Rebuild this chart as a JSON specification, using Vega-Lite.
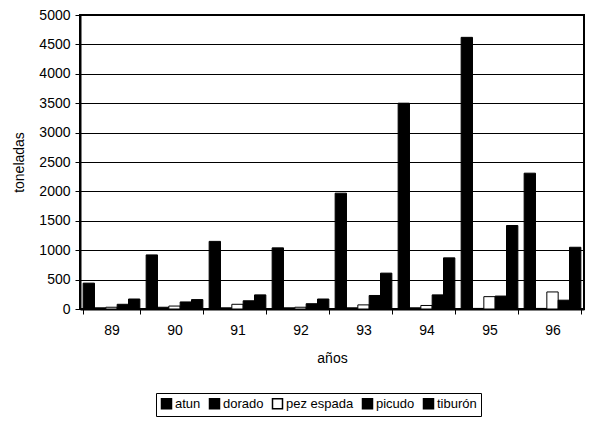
{
  "$schema": "https://vega.github.io/schema/vega-lite/v6.json",
  "autosize": "none",
  "width": 504,
  "height": 294,
  "padding": {"left": 80, "top": 15, "right": 16, "bottom": 130},
  "background": "white",
  "config": {
    "view": {"stroke": "black", "strokeWidth": 2},
    "font": "Liberation Sans"
  },
  "data": {
    "values": [
      {"año": "89", "especie": "atun", "t": 440},
      {"año": "89", "especie": "dorado", "t": 20},
      {"año": "89", "especie": "pez espada", "t": 30},
      {"año": "89", "especie": "picudo", "t": 80},
      {"año": "89", "especie": "tiburón", "t": 170},
      {"año": "90", "especie": "atun", "t": 920},
      {"año": "90", "especie": "dorado", "t": 30},
      {"año": "90", "especie": "pez espada", "t": 50},
      {"año": "90", "especie": "picudo", "t": 120},
      {"año": "90", "especie": "tiburón", "t": 160},
      {"año": "91", "especie": "atun", "t": 1150},
      {"año": "91", "especie": "dorado", "t": 20},
      {"año": "91", "especie": "pez espada", "t": 80},
      {"año": "91", "especie": "picudo", "t": 140},
      {"año": "91", "especie": "tiburón", "t": 240},
      {"año": "92", "especie": "atun", "t": 1040},
      {"año": "92", "especie": "dorado", "t": 20},
      {"año": "92", "especie": "pez espada", "t": 30},
      {"año": "92", "especie": "picudo", "t": 90},
      {"año": "92", "especie": "tiburón", "t": 170},
      {"año": "93", "especie": "atun", "t": 1970},
      {"año": "93", "especie": "dorado", "t": 20},
      {"año": "93", "especie": "pez espada", "t": 70},
      {"año": "93", "especie": "picudo", "t": 230},
      {"año": "93", "especie": "tiburón", "t": 610},
      {"año": "94", "especie": "atun", "t": 3500},
      {"año": "94", "especie": "dorado", "t": 20},
      {"año": "94", "especie": "pez espada", "t": 60},
      {"año": "94", "especie": "picudo", "t": 240},
      {"año": "94", "especie": "tiburón", "t": 870},
      {"año": "95", "especie": "atun", "t": 4620},
      {"año": "95", "especie": "dorado", "t": 10},
      {"año": "95", "especie": "pez espada", "t": 210},
      {"año": "95", "especie": "picudo", "t": 220},
      {"año": "95", "especie": "tiburón", "t": 1420},
      {"año": "96", "especie": "atun", "t": 2310},
      {"año": "96", "especie": "dorado", "t": 10},
      {"año": "96", "especie": "pez espada", "t": 290},
      {"año": "96", "especie": "picudo", "t": 150},
      {"año": "96", "especie": "tiburón", "t": 1050}
    ]
  },
  "mark": {"type": "bar", "stroke": "black", "strokeWidth": 1},
  "encoding": {
    "x": {
      "field": "año",
      "type": "nominal",
      "scale": {"paddingInner": 0.1, "paddingOuter": 0.05},
      "axis": {
        "title": "años",
        "titleFontSize": 14,
        "titleFontWeight": "normal",
        "titleColor": "black",
        "titlePadding": 14,
        "labelAngle": 0,
        "labelFontSize": 14,
        "labelColor": "black",
        "labelPadding": 9,
        "tickBand": "extent",
        "tickColor": "black",
        "tickSize": 5,
        "domainColor": "black",
        "domainWidth": 2
      }
    },
    "xOffset": {"field": "especie", "type": "nominal", "sort": ["atun", "dorado", "pez espada", "picudo", "tiburón"], "scale": {"paddingInner": 0}},
    "y": {
      "field": "t",
      "type": "quantitative",
      "scale": {"domain": [0, 5000]},
      "axis": {
        "title": "toneladas",
        "titleFontSize": 14,
        "titleFontWeight": "normal",
        "titleColor": "black",
        "titlePadding": 12,
        "format": "d",
        "values": [0, 500, 1000, 1500, 2000, 2500, 3000, 3500, 4000, 4500, 5000],
        "labelFontSize": 14,
        "labelColor": "black",
        "labelPadding": 5,
        "tickColor": "black",
        "tickSize": 5,
        "gridColor": "black",
        "gridOpacity": 1,
        "gridWidth": 1,
        "domainColor": "black",
        "domainWidth": 2
      }
    },
    "fill": {
      "field": "especie",
      "type": "nominal",
      "sort": ["atun", "dorado", "pez espada", "picudo", "tiburón"],
      "scale": {"domain": ["atun", "dorado", "pez espada", "picudo", "tiburón"], "range": ["black", "black", "white", "black", "black"]},
      "legend": {
        "title": null,
        "orient": "none",
        "legendX": 76,
        "legendY": 378,
        "direction": "horizontal",
        "symbolType": "square",
        "symbolSize": 100,
        "symbolStrokeColor": "black",
        "symbolStrokeWidth": 1.5,
        "labelFontSize": 13,
        "labelColor": "black",
        "labelOffset": 2,
        "columnPadding": 5,
        "padding": 4,
        "strokeColor": "black",
        "fillColor": "white"
      }
    }
  }
}
